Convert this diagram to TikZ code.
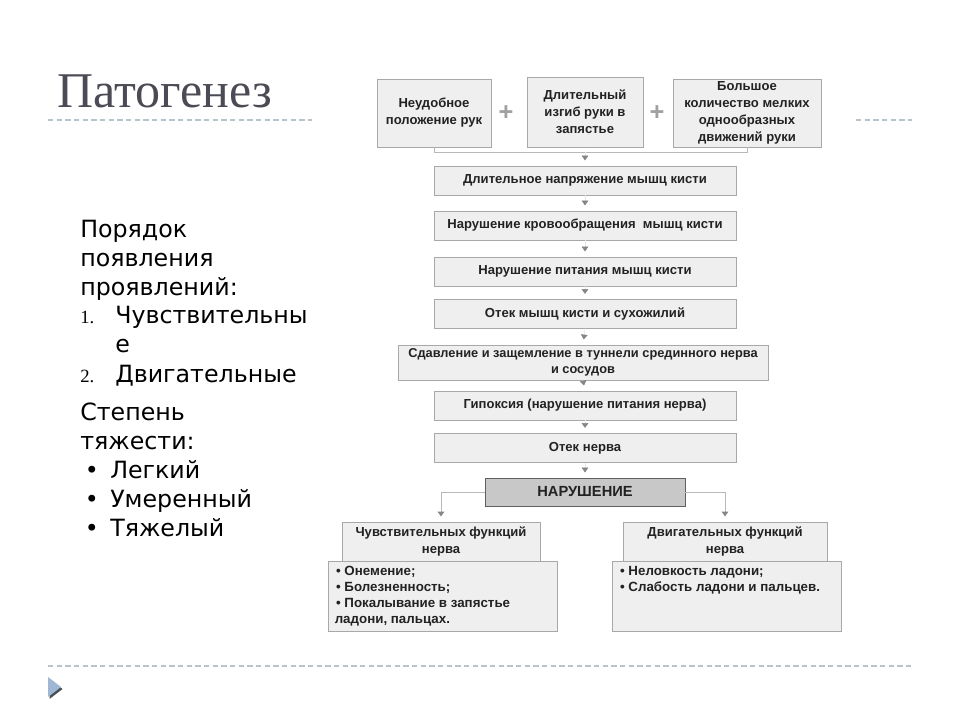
\documentclass[tikz,border=0pt]{standalone}
\usepackage{fontspec}
\setmainfont{DejaVu Sans}
\newfontfamily\boxfont{Liberation Sans}
\newfontfamily\titlefont{Liberation Serif}
\usetikzlibrary{arrows.meta}
\definecolor{boxfill}{HTML}{EFEFEF}
\definecolor{boxline}{HTML}{A8A8A8}
\definecolor{darkfill}{HTML}{C8C8C8}
\definecolor{darkline}{HTML}{606060}
\definecolor{txt}{HTML}{222222}
\definecolor{arrowgray}{HTML}{858585}
\definecolor{conngray}{HTML}{B8B8B8}
\definecolor{titlegray}{HTML}{4B4B55}
\definecolor{dashcol}{HTML}{B8C4CC}
\definecolor{plusgray}{HTML}{A0A0A0}
\definecolor{trifill}{HTML}{9FB7D4}
\definecolor{trishadow}{HTML}{4A4F55}
\begin{document}
\begin{tikzpicture}[x=0.75pt,y=-0.75pt,
  boxstyle/.style={draw=boxline, fill=boxfill, inner sep=1pt, align=center,
    font=\boxfont\bfseries\fontsize{9.8}{12.8}\selectfont, text=txt},
  chain/.style={boxstyle, minimum width=226.5pt, minimum height=21.75pt},
  listbox/.style={draw=boxline, fill=boxfill, inner xsep=4pt, inner ysep=2.5pt,
    font=\boxfont\bfseries\fontsize{10}{12}\selectfont, text=txt},
  arr/.style={draw=black!10, shorten >=4pt,
    -{Triangle[width=5pt,length=3.6pt,color=arrowgray]}},
  conn/.style={draw=conngray, line width=0.6pt},
  dashline/.style={draw=dashcol, line width=0.9pt, dash pattern=on 4pt off 2.5pt},
  plusmark/.style={text=plusgray, font=\boxfont\bfseries\fontsize{19}{19}\selectfont},
  lefttext/.style={anchor=north west, align=left, inner sep=0pt,
    font=\fontsize{17.8}{21.6}\selectfont, text=black}
]
\useasboundingbox (0,0) rectangle (960,720);
\fill[white] (0,0) rectangle (960,720);

% title and rules
\node[anchor=base west, inner sep=0pt, text=titlegray,
  font=\titlefont\fontsize{37.5}{40}\selectfont] (title) at (57,108) {Патогенез};
\draw[dashline] (48,120) -- (312,120);
\draw[dashline] (856,120) -- (912,120);
\draw[dashline] (48,666) -- (912,666);
\fill[trishadow] (49.5,679) -- (49.5,699) -- (62.5,689) -- cycle;
\fill[trifill] (48,677) -- (48,697) -- (61,687) -- cycle;

% left text
\node[lefttext] (order) at (80,220) {Порядок\\появления\\проявлений:\\
  \makebox[26.25pt][l]{\titlefont\fontsize{14}{14}\selectfont 1.}Чувствительны\\
  \hspace*{26.25pt}е\\[1pt]
  \makebox[26.25pt][l]{\titlefont\fontsize{14}{14}\selectfont 2.}Двигательные};
\node[lefttext] (degree) at (80,403) {Степень\\тяжести:\\
  \makebox[22.5pt][l]{\hspace*{3.5pt}•}Легкий\\
  \makebox[22.5pt][l]{\hspace*{3.5pt}•}Умеренный\\
  \makebox[22.5pt][l]{\hspace*{3.5pt}•}Тяжелый};

% top boxes
\node[boxstyle, minimum width=85.5pt, minimum height=51pt] (t1) at (434,113)
  {Неудобное\\положение рук};
\node[boxstyle, minimum width=87pt, minimum height=52.5pt] (t2) at (585,112)
  {Длительный\\изгиб руки в\\запястье};
\node[boxstyle, minimum width=111pt, minimum height=51pt, inner sep=0pt] (t3) at (747,113)
  {Большое\\количество мелких\\однообразных\\движений руки};
\node[plusmark] (p1) at (506,113) {+};
\node[plusmark] (p2) at (657,113) {+};

% chain
\node[chain] (b1) at (585,180.5) {Длительное напряжение мышц кисти};
\node[chain] (b2) at (585,225.5) {Нарушение кровообращения\ \ мышц кисти};
\node[chain] (b3) at (585,271.5) {Нарушение питания мышц кисти};
\node[chain] (b4) at (585,314) {Отек мышц кисти и сухожилий};
\node[boxstyle, minimum width=277.5pt, minimum height=26.25pt, inner sep=0pt,
  font=\boxfont\bfseries\fontsize{9.6}{11.5}\selectfont] (b5) at (583,362.5)
  {Сдавление и защемление в туннели срединного нерва\\и сосудов};
\node[chain] (b6) at (585,405.5) {Гипоксия (нарушение питания нерва)};
\node[chain] (b7) at (585,448) {Отек нерва};
\node[boxstyle, draw=darkline, fill=darkfill, minimum width=150pt, minimum height=21pt,
  font=\boxfont\bfseries\fontsize{11}{13}\selectfont] (n) at (585,492) {НАРУШЕНИЕ};

% branches
\node[boxstyle, minimum width=148.5pt, minimum height=29.25pt] (lh) at (441,541.5)
  {Чувствительных функций\\нерва};
\node[listbox, minimum width=171.75pt, minimum height=52.5pt, anchor=north west] (ll) at (328,561)
  {\parbox[t][45pt][t]{162pt}{\raggedright
   \hspace*{1pt}• Онемение;\\
   \hspace*{1pt}• Болезненность;\\
   \hspace*{1pt}• Покалывание в запястье\\
   ладони, пальцах.}};
\node[boxstyle, minimum width=153pt, minimum height=29.25pt] (rh) at (725,541.5)
  {Двигательных функций\\нерва};
\node[listbox, minimum width=171.75pt, minimum height=52.5pt, anchor=north west] (rl) at (612,561)
  {\parbox[t][45pt][t]{162pt}{\raggedright
   \hspace*{1pt}• Неловкость ладони;\\
   \hspace*{1pt}• Слабость ладони и пальцев.}};

% connectors
\draw[conn] (t1.south) -- ++(0,5) coordinate (bl) -| (t3.south);
\coordinate (brk) at (585,152);
\draw[arr] (brk) -- (b1.north);
\draw[arr] (b1.south) -- (b2.north);
\draw[arr] (b2.south) -- (b3.north);
\draw[arr] (b3.south) -- (b4.north);
\draw[arr] (b4.south) -- (b5.north);
\draw[arr] (b5.south) -- (b6.north);
\draw[arr] (b6.south) -- (b7.north);
\draw[arr] (b7.south) -- (n.north);
\draw[conn, shorten >=4pt, -{Triangle[width=5pt,length=3.6pt,color=arrowgray]}] (n.west) -| (lh.north);
\draw[conn, shorten >=4pt, -{Triangle[width=5pt,length=3.6pt,color=arrowgray]}] (n.east) -| (rh.north);
\end{tikzpicture}
\end{document}
